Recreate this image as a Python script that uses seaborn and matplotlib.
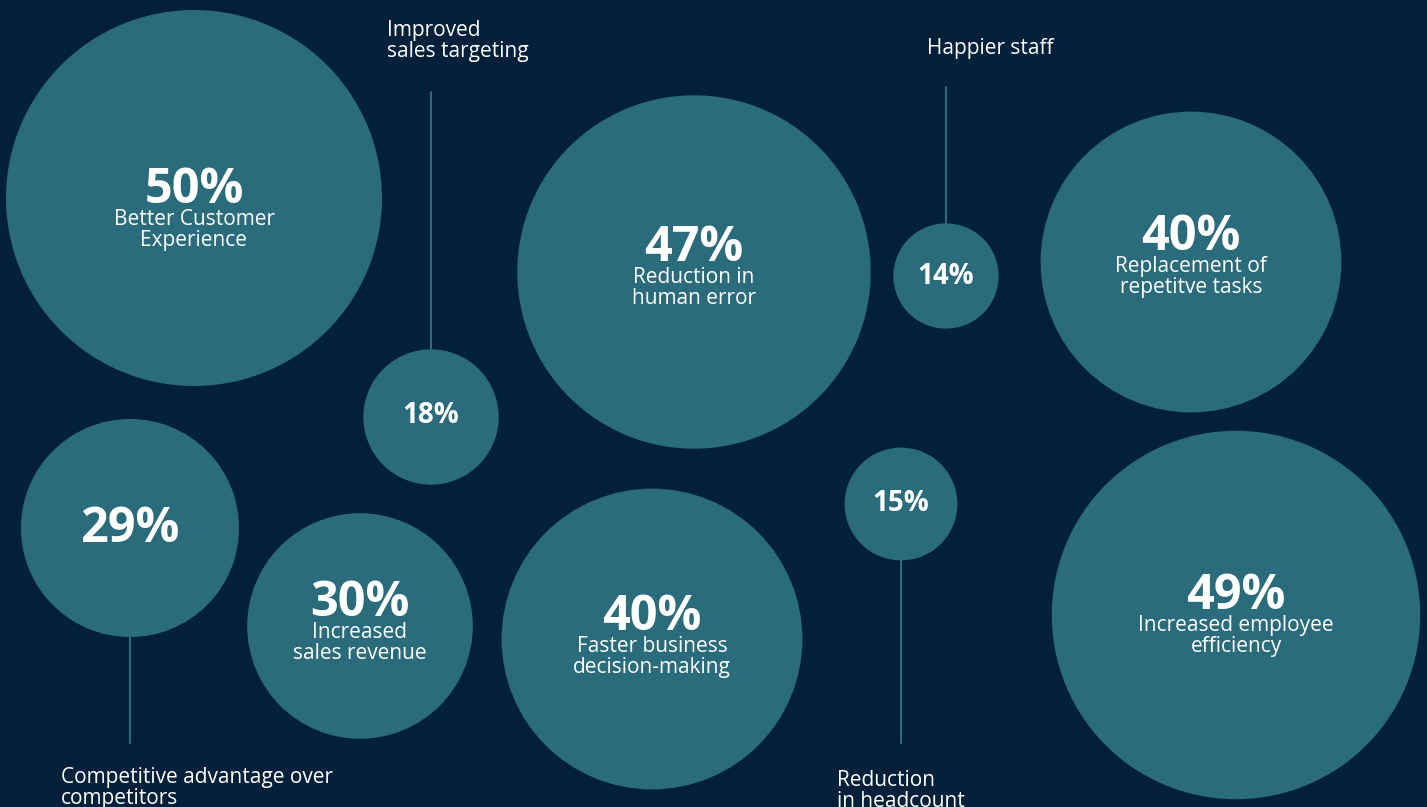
import matplotlib
matplotlib.use("Agg")
import matplotlib.pyplot as plt
import seaborn as sns
import pandas as pd

# ---- data -------------------------------------------------------------
values = [50, 18, 47, 14, 40, 29, 30, 40, 15, 49]
labels = [
    ["Better Customer", "Experience"],
    ["Improved", "sales targeting"],
    ["Reduction in", "human error"],
    ["Happier staff"],
    ["Replacement of", "repetitve tasks"],
    ["Competitive advantage over", "competitors"],
    ["Increased", "sales revenue"],
    ["Faster business", "decision-making"],
    ["Reduction", "in headcount"],
    ["Increased employee", "efficiency"],
]
# caption inside the bubble, or outside at the end of a stem
placement = ["in", "top", "in", "top", "in", "bottom", "in", "in", "bottom", "in"]

# ---- layout (pixel canvas) --------------------------------------------
cx = [194, 431, 694, 946, 1191, 130, 360, 652, 901, 1236]
cy = [198, 417, 272, 276, 262, 528, 626, 639, 504, 615]
pct_base = [5, 6, -11, 8, -12, 14, -10, -9, 7, -6]   # % baseline offset from centre
stem_end = [None, 92, None, 87, None, 743, None, None, 743, None]
out_pos = {1: (387, 36), 3: (927, 54), 5: (61, 783), 8: (837, 786)}

W, H = 1427, 807
BG = "#03203A"
BUBBLE = "#2A6B7C"
PX_PER_PCT = 3.76  # bubble radius in px per percentage point
PT = 72 / 100      # points per pixel at dpi=100
LINE_GAP = 21
CAPTION_SIZE = 15

sns.set_theme(style="white")
plt.rcParams["font.family"] = ["Open Sans", "DejaVu Sans"]

df = pd.DataFrame({"x": cx, "y": cy, "value": values})
df["area"] = (2 * df["value"] * PX_PER_PCT * PT) ** 2

fig = plt.figure(figsize=(W / 100, H / 100), dpi=100, facecolor=BG)
ax = fig.add_axes([0, 0, 1, 1], facecolor=BG)

# stems connecting small bubbles to their outside captions
for i, end in enumerate(stem_end):
    if end is None:
        continue
    r = values[i] * PX_PER_PCT
    start = cy[i] - r if end < cy[i] else cy[i] + r
    sns.lineplot(x=[cx[i], cx[i]], y=[start, end], ax=ax, color=BUBBLE,
                 linewidth=2 * PT, estimator=None, sort=False)

sns.scatterplot(data=df, x="x", y="y", size="area",
                sizes={a: a for a in df["area"]}, color=BUBBLE,
                edgecolor="none", linewidth=0, legend=False, ax=ax, zorder=3)

for i, v in enumerate(values):
    base = cy[i] + pct_base[i]
    small = v < 25
    ax.text(cx[i], base, f"{v}%", color="white",
            fontsize=20 if small else 35, fontweight="bold",
            ha="center", va="baseline", zorder=5)
    if placement[i] == "in":
        for k, line in enumerate(labels[i]):
            ax.text(cx[i], base + 22 + k * LINE_GAP, line, color="white",
                    fontsize=CAPTION_SIZE, ha="center", va="baseline", zorder=5)
    else:
        lx, ly = out_pos[i]
        for k, line in enumerate(labels[i]):
            ax.text(lx, ly + k * LINE_GAP, line, color="white",
                    fontsize=CAPTION_SIZE, ha="left", va="baseline", zorder=5)

ax.set_xlim(0, W)
ax.set_ylim(H, 0)
ax.set_aspect("equal")
ax.axis("off")
fig.savefig("out.png", dpi=100, facecolor=BG)
